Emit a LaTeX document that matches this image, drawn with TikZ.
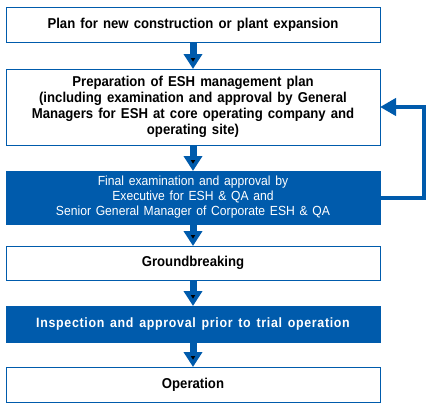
\documentclass[tikz,border=0pt]{standalone}
\usepackage{fontspec}
\setmainfont{Liberation Sans}[FakeStretch=0.92, WordSpace=1.4]
\usepackage{tikz}
\usetikzlibrary{arrows.meta,positioning}
\definecolor{eshblue}{RGB}{0,91,172}
\tikzstyle{wbox}=[rectangle, draw=eshblue, line width=1pt, fill=white, inner sep=0pt, outer sep=0pt, minimum width=374pt, align=center, font=\bfseries\fontsize{14.3}{16}\selectfont, text=black]
\tikzstyle{bbox}=[wbox, draw=eshblue, fill=eshblue, text=white]
\tikzstyle{down}=[draw=eshblue, line width=7pt, -{Triangle[width=18pt,length=15pt]}]
\tikzstyle{back}=[draw=eshblue, line width=4pt, -{Triangle[width=17pt,length=16pt]}]

\begin{document}
\begin{tikzpicture}
[x=1pt, y=-1pt]
\useasboundingbox (0,0) rectangle (430,410);
\node[wbox, minimum height=35pt] (plan) at (193,24.5) {Plan for new construction or plant expansion};
\node[wbox, minimum height=76pt] (prep) [below=27pt of plan] {Preparation of ESH management plan\\(including examination and approval by General\\Managers for ESH at core operating company and\\operating site)};
\node[bbox, minimum height=53pt, font=\fontsize{13.2}{15}\selectfont] (final) [below=26pt of prep] {Final examination and approval by\\Executive for ESH \& QA and\\Senior General Manager of Corporate ESH \& QA};
\node[wbox, minimum height=34pt] (ground) [below=22pt of final] {Groundbreaking};
\node[bbox, minimum height=36pt, font=\bfseries\fontsize{13.5}{16}\selectfont] (insp) [below=26pt of ground] {\addfontfeatures{LetterSpace=5}Inspection and approval prior to trial operation};
\node[wbox, minimum height=35pt] (oper) [below=25pt of insp] {Operation};
\path[down]
   (plan) edge (prep)
   (prep) edge (final)
   (final) edge (ground)
   (ground) edge (insp)
   (insp) edge (oper);
\draw[back] (final.east) -- ++(44,0) |- (prep.east);
\end{tikzpicture}
\end{document}
